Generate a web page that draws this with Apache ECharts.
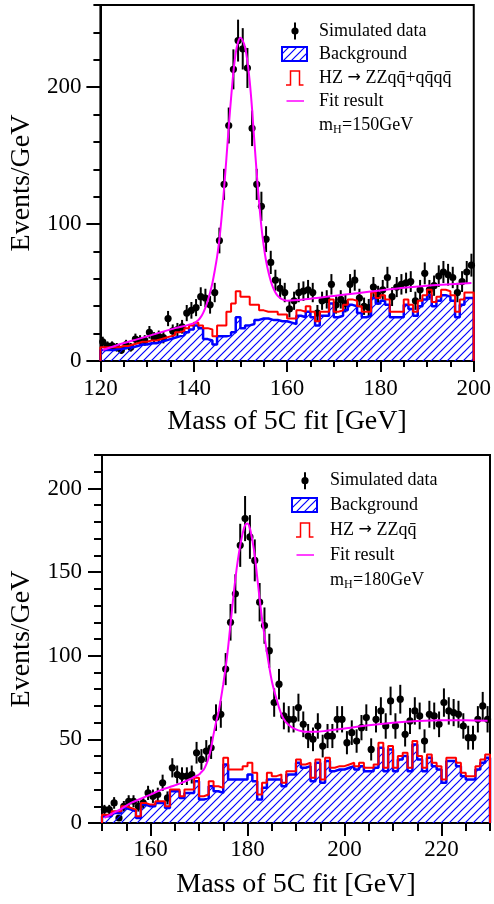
<!DOCTYPE html>
<html>
<head>
<meta charset="utf-8">
<title>Mass of 5C fit</title>
<script src="https://cdn.jsdelivr.net/npm/echarts@6/dist/echarts.min.js"></script>
<style>
    html, body { margin: 0; padding: 0; background: #fff; }
    #chart { width: 494px; height: 904px; }
</style>
</head>
<body>
<div id="chart"></div>
<script>
// 上图: m_H = 150 GeV, 1 GeV bins from 120 to 200
const topLo = 120;
const topHi = 200;
const topData = [
    14, 11, 11, 10, 8, 12, 10, 16, 15, 15,
    21, 17, 18, 17, 31, 22, 23, 25, 35, 37,
    39, 47, 46, 41, 50, 88, 129, 172, 213, 234,
    228, 214, 170, 129, 113, 89, 72, 59, 53, 50,
    38, 44, 50, 51, 52, 50, 35, 44, 45, 56,
    41, 45, 42, 56, 59, 46, 40, 39, 54, 48,
    52, 61, 47, 54, 56, 57, 58, 44, 52, 64,
    52, 55, 62, 65, 63, 61, 50, 58, 65, 70
];
const topBkg = [
    8, 8, 8, 9, 9, 10, 10, 11, 12, 12,
    13, 13, 14, 15, 16, 17, 18, 19, 21, 23,
    26, 24, 16, 15, 12, 18, 18, 19, 21, 32,
    24, 26, 27, 30, 31, 31, 30, 30, 29, 29,
    28, 27, 33, 32, 36, 32, 26, 33, 33, 42,
    32, 33, 37, 41, 40, 35, 32, 33, 46, 42,
    44, 41, 32, 32, 32, 41, 38, 33, 40, 45,
    48, 40, 44, 48, 47, 44, 32, 41, 46, 46
];
const topTotal = [
    10, 10, 10, 10, 11, 11, 12, 13, 14, 14,
    15, 15, 16, 17, 18, 19, 21, 22, 24, 26,
    28, 26, 24, 23, 18, 26, 26, 36, 42, 51,
    47, 47, 41, 41, 37, 36, 36, 36, 34, 34,
    31, 31, 37, 36, 40, 36, 29, 36, 36, 45,
    36, 37, 41, 45, 44, 40, 36, 36, 50, 46,
    48, 45, 36, 36, 36, 45, 41, 36, 44, 48,
    52, 43, 47, 52, 51, 48, 36, 45, 50, 50
];
const topFitMass = [
    120.5, 124, 128, 132, 136, 140, 141, 141.5, 142, 142.5, 143, 143.5, 144, 144.5,
    145, 145.5, 146, 146.5, 147, 147.5, 148, 148.5, 149, 149.5, 150, 150.5,
    151, 151.5, 152, 152.5, 153, 153.5, 154, 154.5, 155, 155.5, 156, 156.5,
    157, 157.5, 158, 158.5, 159, 160, 165, 170, 175, 180, 185, 190, 195, 199.5
];
const topFitVal = [
    8, 12, 16, 20, 24, 27.5, 30, 32, 35, 39, 44, 50, 57, 66,
    76, 89, 106, 126, 148, 171, 192, 211, 225, 233, 236, 234,
    229, 219, 204, 184, 160, 137, 116, 98, 84, 73, 65, 58.5,
    53.5, 50, 47.5, 46, 45, 44, 45.5, 47.5, 49.5, 51.5, 53.5, 55, 56, 57
];

// 下图: m_H = 180 GeV, 1 GeV bins from 150 to 230
const botLo = 150;
const botHi = 230;
const botData = [
    8, 8, 12, 3, 10, 13, 13, 10, 12, 18,
    16, 17, 24, 15, 33, 29, 28, 28, 29, 42,
    38, 43, 45, 63, 65, 92, 120, 137, 166, 182,
    171, 157, 132, 118, 103, 72, 83, 64, 62, 62,
    69, 59, 52, 50, 58, 46, 52, 52, 62, 62,
    48, 54, 49, 57, 63, 44, 62, 67, 58, 73,
    58, 74, 53, 61, 67, 64, 49, 65, 64, 59,
    72, 67, 66, 65, 58, 51, 51, 62, 70, 62
];
const botBkg = [
    4, 4, 6, 6, 9, 8, 7, 3, 11, 10,
    10, 12, 12, 9, 19, 19, 15, 18, 18, 25,
    14, 15, 22, 19, 18, 35, 26, 26, 26, 26,
    29, 25, 14, 21, 26, 26, 26, 22, 29, 29,
    36, 33, 34, 25, 36, 24, 37, 31, 32, 32,
    33, 34, 32, 34, 31, 31, 33, 45, 31, 44,
    31, 38, 40, 31, 47, 38, 31, 39, 34, 32,
    24, 37, 37, 34, 28, 26, 26, 32, 36, 39
];
const botTotal = [
    5, 5, 7, 7, 10, 9, 8, 4, 12, 11,
    11, 13, 13, 10, 20, 20, 16, 20, 20, 27,
    16, 17, 25, 22, 21, 39, 32, 32, 32, 34,
    36, 30, 17, 24, 30, 28, 29, 24, 31, 31,
    38, 35, 36, 27, 38, 26, 39, 33, 34, 34,
    35, 36, 34, 36, 33, 33, 35, 48, 33, 46,
    33, 40, 42, 33, 49, 40, 33, 41, 36, 34,
    26, 39, 39, 36, 30, 28, 28, 34, 38, 41
];
const botFitMass = [
    150.5, 152, 154, 156, 158, 160, 162, 164, 166, 168, 169, 170, 170.5, 171, 171.5,
    172, 172.5, 173, 173.5, 174, 174.5, 175, 175.5, 176, 176.5, 177, 177.5, 178,
    178.5, 179, 179.5, 180, 180.5, 181, 181.5, 182, 182.5, 183, 183.5, 184, 184.5,
    185, 185.5, 186, 186.5, 187, 187.5, 188, 189, 190, 191, 192, 194, 196, 200,
    205, 210, 215, 220, 225, 229.5
];
const botFitVal = [
    3, 5.5, 8.5, 12, 14.5, 17, 19.5, 21.5, 23.5, 26, 27.5, 29, 30.5, 32, 35,
    39, 45, 53, 60, 66, 74, 83, 93, 105, 119, 133, 146, 157,
    166, 173, 178, 179, 176, 169, 160, 147, 134, 122, 112, 102, 93,
    85, 79, 74, 69, 65, 62, 60, 57.5, 56, 55, 54.5, 54.5, 55, 56.5,
    58.5, 60, 61, 61.5, 61.5, 61.2
];

const topTicksY = [0, 100, 200];
const botTicksY = [0, 50, 100, 150, 200];
const topTicksX = [120, 140, 160, 180, 200];
const botTicksX = [160, 180, 200, 220];

const FONT = "'Liberation Serif', 'DejaVu Serif', serif";

function hatchPattern() {
    const c = document.createElement('canvas');
    c.width = 8;
    c.height = 8;
    const g = c.getContext('2d');
    g.strokeStyle = '#0000ff';
    g.lineWidth = 1.2;
    g.beginPath();
    g.moveTo(0, 8); g.lineTo(8, 0);
    g.moveTo(-1, 1); g.lineTo(1, -1);
    g.moveTo(7, 9); g.lineTo(9, 7);
    g.stroke();
    return { image: c, repeat: 'repeat' };
}
const hatch = hatchPattern();

// histogram outline: down to 0 at both ends
function steps(lo, vals) {
    const pts = [[lo, 0]];
    vals.forEach((v, i) => {
        pts.push([lo + i, v]);
        pts.push([lo + i + 1, v]);
    });
    pts.push([lo + vals.length, 0]);
    return pts;
}

function points(lo, vals) {
    return vals.map((v, i) => [lo + i + 0.5, v, Math.sqrt(v)]);
}

function pairs(xs, ys) {
    return xs.map((x, i) => [x, ys[i]]);
}

function renderPoint(params, api) {
    const x = api.value(0);
    const y = api.value(1);
    const e = api.value(2);
    const c = api.coord([x, y]);
    const lo = api.coord([x, y - e]);
    const hi = api.coord([x, y + e]);
    return {
        type: 'group',
        children: [
            { type: 'line', shape: { x1: c[0], y1: lo[1], x2: c[0], y2: hi[1] }, style: { stroke: '#000', lineWidth: 2 } },
            { type: 'circle', shape: { cx: c[0], cy: c[1], r: 3.6 }, style: { fill: '#000' } }
        ]
    };
}

function minorAxis(grid, min, max, interval, len, pos) {
    return {
        gridIndex: grid, type: 'value', position: pos, min, max, interval,
        axisLine: { show: true, lineStyle: { color: '#000', width: 2 } },
        axisTick: { show: true, length: len, lineStyle: { color: '#000', width: 2 } },
        axisLabel: { show: false },
        splitLine: { show: false }
    };
}

function majorAxis(grid, min, max, interval, ticks, len, pos, margin, name, nameGap) {
    return {
        gridIndex: grid, type: 'value', position: pos, min, max, interval,
        axisLine: { show: false },
        axisTick: { show: true, length: len, customValues: ticks, lineStyle: { color: '#000', width: 2 } },
        axisLabel: {
            customValues: ticks, margin, fontFamily: FONT, fontSize: 23, color: '#000',
            formatter: v => (ticks.indexOf(v) >= 0 ? String(v) : '')
        },
        splitLine: { show: false },
        name, nameLocation: 'middle', nameGap,
        nameTextStyle: { fontFamily: FONT, fontSize: 28, color: '#000' }
    };
}

function histSeries(xi, lo, bkg, total, data, fx, fy) {
    return [
        {
            type: 'line', xAxisIndex: xi, yAxisIndex: xi, data: steps(lo, bkg),
            showSymbol: false, lineStyle: { color: '#0000ff', width: 2.5 },
            areaStyle: { color: hatch, opacity: 1 }, silent: true, animation: false
        },
        {
            type: 'line', xAxisIndex: xi, yAxisIndex: xi, data: steps(lo, total),
            showSymbol: false, lineStyle: { color: '#ff0000', width: 2 }, silent: true, animation: false
        },
        {
            type: 'custom', xAxisIndex: xi, yAxisIndex: xi, data: points(lo, data),
            encode: { x: 0, y: 1 }, renderItem: renderPoint, animation: false
        },
        {
            type: 'line', xAxisIndex: xi, yAxisIndex: xi, data: pairs(fx, fy),
            smooth: 0.3, showSymbol: false, lineStyle: { color: '#ff00ff', width: 2 }, animation: false
        }
    ];
}

function legend(x0, xt, rows, decay, mass) {
    const font = '18px ' + FONT;
    const txt = (x, y, s, f) => ({
        type: 'text', x, y, style: { text: s, font: f || font, fill: '#000', verticalAlign: 'middle', align: 'left' }
    });
    return [
        { type: 'line', shape: { x1: x0, y1: rows[0] - 8.5, x2: x0, y2: rows[0] + 8.5 }, style: { stroke: '#000', lineWidth: 2 } },
        { type: 'circle', shape: { cx: x0, cy: rows[0], r: 3.6 }, style: { fill: '#000' } },
        txt(xt, rows[0], 'Simulated data'),
        { type: 'rect', shape: { x: x0 - 13, y: rows[1] - 7, width: 25, height: 14 }, style: { fill: hatch, stroke: '#0000ff', lineWidth: 2 } },
        txt(xt, rows[1], 'Background'),
        {
            type: 'polyline',
            shape: { points: [[x0 - 9, rows[2] + 7], [x0 - 4.5, rows[2] + 7], [x0 - 4.5, rows[2] - 7], [x0 + 4.5, rows[2] - 7], [x0 + 4.5, rows[2] + 7], [x0 + 8.5, rows[2] + 7]] },
            style: { stroke: '#ff0000', lineWidth: 1.5, fill: null }
        },
        {
            type: 'text', x: xt, y: rows[2],
            style: {
                text: '{a|HZ }{b|\u2192}{a| ' + decay + '}',
                verticalAlign: 'middle', align: 'left',
                rich: {
                    a: { fontFamily: FONT, fontSize: 18, fill: '#000' },
                    b: { fontFamily: 'DejaVu Sans', fontSize: 16, fill: '#000' }
                }
            }
        },
        { type: 'line', shape: { x1: x0 - 8.5, y1: rows[3], x2: x0 + 9, y2: rows[3] }, style: { stroke: '#ff00ff', lineWidth: 1.5 } },
        txt(xt, rows[3], 'Fit result'),
        txt(xt, rows[4], 'm'),
        txt(xt + 14, rows[4] + 5, 'H', '12px ' + FONT),
        txt(xt + 23, rows[4], '=' + mass + 'GeV')
    ];
}

const chart = echarts.init(document.getElementById('chart'), null, { renderer: 'canvas' });

chart.setOption({
    backgroundColor: '#fff',
    animation: false,
    grid: [
        { left: 99, top: 5, width: 375, height: 356, show: true, borderColor: '#000', borderWidth: 2 },
        { left: 102, top: 455, width: 388, height: 368, show: true, borderColor: '#000', borderWidth: 2 }
    ],
    xAxis: [
        minorAxis(0, topLo, topHi, 5, 6, 'bottom'),
        majorAxis(0, topLo, topHi, 20, topTicksX, 11, 'bottom', 16, 'Mass of 5C fit [GeV]', 47),
        minorAxis(1, botLo, botHi, 5, 8, 'bottom'),
        majorAxis(1, botLo, botHi, 10, botTicksX, 13, 'bottom', 15, 'Mass of 5C fit [GeV]', 48)
    ],
    yAxis: [
        minorAxis(0, 0, 260, 20, 7, 'left'),
        majorAxis(0, 0, 260, 20, topTicksY, 14, 'left', 19, 'Events/GeV', 64),
        minorAxis(1, 0, 220, 10, 8, 'left'),
        majorAxis(1, 0, 220, 10, botTicksY, 14, 'left', 20, 'Events/GeV', 66)
    ],
    series: [
        ...histSeries(0, topLo, topBkg, topTotal, topData, topFitMass, topFitVal),
        ...histSeries(2, botLo, botBkg, botTotal, botData, botFitMass, botFitVal)
    ],
    graphic: [
        ...legend(295, 319, [31, 54, 78, 101, 125], 'ZZqq\u0304+qq\u0304qq\u0304', 150),
        ...legend(305, 330, [480.7, 505, 530, 555, 580], 'ZZqq\u0304', 180)
    ]
});
</script>
</body>
</html>
